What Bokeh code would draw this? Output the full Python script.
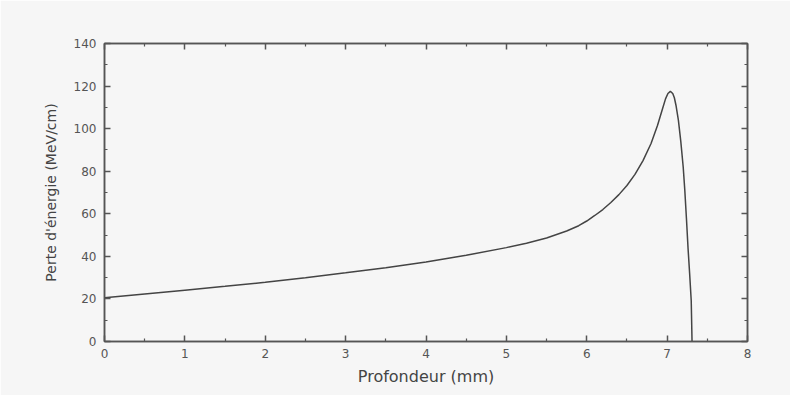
from bokeh.plotting import figure
from bokeh.models import LinearAxis, FixedTicker, Range1d
from bokeh.embed import file_html
from bokeh.resources import INLINE

# Depth (mm) and energy loss (MeV/cm) - Bragg curve
depth = [0, 0.5, 1, 1.5, 2, 2.5, 3, 3.5, 4, 4.5, 5, 5.25, 5.5, 5.75, 5.9, 6.0,
         6.1, 6.2, 6.3, 6.4, 6.5, 6.6, 6.7, 6.8, 6.88, 6.94, 6.98, 7.01, 7.04,
         7.07, 7.09, 7.11, 7.14, 7.17, 7.2, 7.22, 7.24, 7.26, 7.28, 7.30, 7.31]
energy = [20.5, 22.3, 24.1, 25.9, 27.8, 30.0, 32.3, 34.7, 37.3, 40.5, 44.1, 46.2,
          48.6, 51.9, 54.4, 56.6, 59.2, 62.0, 65.3, 69.0, 73.3, 78.5, 85.0, 93.0,
          101.5, 109.0, 114.0, 116.5, 117.5, 116.5, 114.5, 111.0, 104.0, 94.0,
          82.0, 71.0, 58.0, 44.0, 32.0, 19.0, 0.0]

x_ticks = [0, 1, 2, 3, 4, 5, 6, 7, 8]
y_ticks = [0, 20, 40, 60, 80, 100, 120, 140]
x_minor = [0.5 + i for i in range(8)]
y_minor = [10 + 20 * i for i in range(7)]

BG = "#f6f6f6"
AX = "#555555"
TXT = "#555555"

p = figure(width=790, height=395, output_backend="svg", toolbar_location=None,
           x_range=Range1d(0, 8), y_range=Range1d(0, 140),
           x_axis_label="Profondeur (mm)", y_axis_label="Perte d'énergie (MeV/cm)",
           min_border_left=104, min_border_right=43, min_border_top=43,
           min_border_bottom=54)
p.background_fill_color = BG
p.border_fill_color = BG
p.outline_line_color = AX
p.outline_line_width = 1.5
p.grid.visible = False

p.line(depth, energy, line_color="#444444", line_width=1.5)

def style(ax, ticks, minor, labels=True):
    ax.ticker = FixedTicker(ticks=ticks, minor_ticks=minor)
    ax.axis_line_color = AX
    ax.axis_line_width = 1.5
    ax.major_tick_line_color = AX
    ax.minor_tick_line_color = AX
    ax.major_tick_line_width = 1.5
    ax.minor_tick_line_width = 1.2
    ax.major_tick_in = 6
    ax.major_tick_out = 0
    ax.minor_tick_in = 3
    ax.minor_tick_out = 0
    ax.major_label_text_font = "DejaVu Sans"
    ax.major_label_text_font_size = "12px"
    ax.major_label_text_color = TXT
    ax.axis_label_text_font = "DejaVu Sans"
    ax.axis_label_text_font_size = "14px"
    ax.axis_label_text_font_style = "normal"
    ax.axis_label_text_color = "#444444"
    if not labels:
        ax.major_label_text_alpha = 0
        ax.major_label_text_font_size = "1px"

style(p.xaxis[0], x_ticks, x_minor)
style(p.yaxis[0], y_ticks, y_minor)
p.xaxis[0].axis_label_text_font_size = "16px"
p.xaxis[0].major_label_standoff = 7
p.yaxis[0].major_label_standoff = 8
p.xaxis[0].axis_label_standoff = 6
p.yaxis[0].axis_label_standoff = 12

top = LinearAxis()
right = LinearAxis()
style(top, x_ticks, x_minor, labels=False)
style(right, y_ticks, y_minor, labels=False)
p.add_layout(top, "above")
p.add_layout(right, "right")

open("out.html", "w").write(file_html(p, INLINE))
